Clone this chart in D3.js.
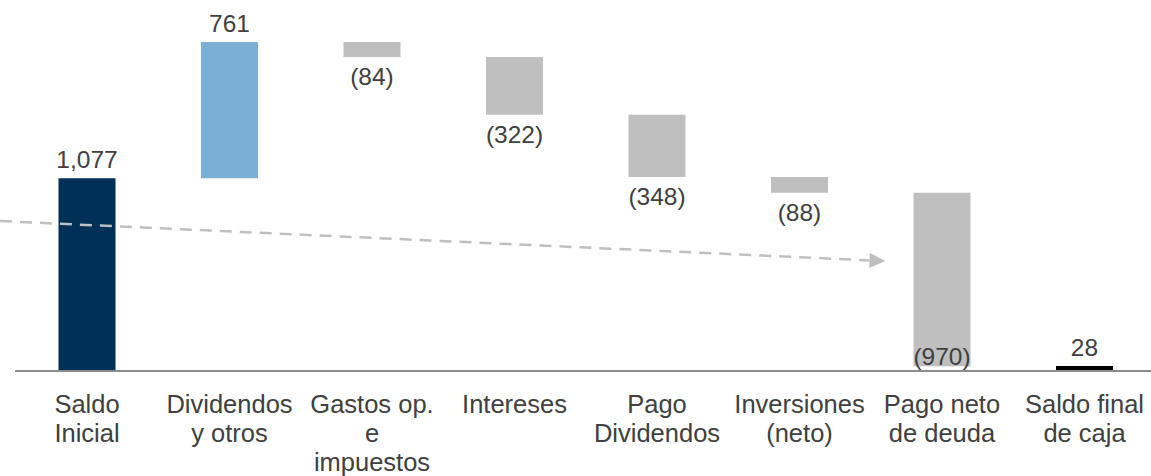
<!DOCTYPE html>
<html>
<head>
<meta charset="utf-8">
<script src="https://cdn.jsdelivr.net/npm/d3@7/dist/d3.min.js"></script>
<style>
  html, body { margin: 0; padding: 0; background: #fff; }
  svg { display: block; }
  text { font-family: "Liberation Sans", Arial, sans-serif; fill: #404040; }
</style>
</head>
<body>
<svg id="chart" width="1151" height="476"></svg>
<script>
// ---- data ----
const categories = [
  "Saldo\nInicial",
  "Dividendos\ny otros",
  "Gastos op.\ne\nimpuestos",
  "Intereses",
  "Pago\nDividendos",
  "Inversiones\n(neto)",
  "Pago neto\nde deuda",
  "Saldo final\nde caja"
];
const values = [1077, 761, -84, -322, -348, -88, -970, 28];
const kinds = ["total", "increase", "decrease", "decrease", "decrease", "decrease", "decrease", "total"];
const valueLabels = ["1,077", "761", "(84)", "(322)", "(348)", "(88)", "(970)", "28"];
// dashed trend annotation: value level at the left edge and at the arrow tip (before "Pago neto de deuda")
const trendValues = [838, 614];

// ---- layout ----
const W = 1151, H = 476;
const svg = d3.select("#chart");
const colors = { total0: "#003057", increase: "#7bafd4", decrease: "#bfbfbf", totalEnd: "#000000" };

const x = d3.scaleBand()
  .domain(categories)
  .range([15.75, 1155.75])
  .paddingInner(0.6)
  .paddingOuter(0.3);

const y = d3.scaleLinear().domain([0, 2073]).range([371, 0]);

// waterfall computation
let running = 0;
const bars = categories.map((c, i) => {
  let y0, y1;
  if (kinds[i] === "total") {
    y0 = 0; y1 = values[i];
    running = values[i];
  } else {
    y0 = running; y1 = running + values[i];
    running = y1;
  }
  return { cat: c, v: values[i], kind: kinds[i], lo: Math.min(y0, y1), hi: Math.max(y0, y1), label: valueLabels[i], i };
});

function barColor(d) {
  if (d.kind === "total") return d.i === 0 ? colors.total0 : colors.totalEnd;
  return d.kind === "increase" ? colors.increase : colors.decrease;
}

// bars
svg.append("g").selectAll("rect")
  .data(bars)
  .join("rect")
  .attr("x", d => x(d.cat))
  .attr("width", x.bandwidth())
  .attr("y", d => y(d.hi))
  .attr("height", d => Math.max(y(d.lo) - y(d.hi), 3.5))
  .attr("fill", barColor);

// baseline axis
const axis = svg.append("g").attr("transform", `translate(0,${y(0)})`)
  .call(d3.axisBottom(x).tickSize(0).tickFormat(""));
axis.select(".domain").attr("stroke", "#8c8c8c").attr("stroke-width", 2)
  .attr("d", `M15,0H${W}`);

// category labels
const lab = svg.append("g").selectAll("text")
  .data(categories)
  .join("text")
  .attr("text-anchor", "middle")
  .attr("font-size", 25.5)
  .attr("x", d => x(d) + x.bandwidth() / 2)
  .attr("y", 413);
lab.selectAll("tspan")
  .data(d => d.split("\n"))
  .join("tspan")
  .attr("x", function () { return this.parentNode.getAttribute("x"); })
  .attr("dy", (d, i) => i === 0 ? 0 : 29)
  .text(d => d);

// value labels
svg.append("g").selectAll("text")
  .data(bars)
  .join("text")
  .attr("text-anchor", "middle")
  .attr("font-size", 24.5)
  .attr("x", d => x(d.cat) + x.bandwidth() / 2)
  .attr("y", d => {
    if (d.v >= 0) return y(d.hi) - 10;
    return Math.min(y(d.lo) + 28, y(0) - 6);
  })
  .text(d => d.label);

// dashed trend arrow
const tipX = x(categories[6]) - 28;
const startPt = [0, y(trendValues[0])];
const tipPt = [tipX, y(trendValues[1])];
const ang = Math.atan2(tipPt[1] - startPt[1], tipPt[0] - startPt[0]);
const headLen = 16, headHalf = 7.5;
const baseX = tipPt[0] - headLen * Math.cos(ang), baseY = tipPt[1] - headLen * Math.sin(ang);
svg.append("line")
  .attr("x1", startPt[0]).attr("y1", startPt[1])
  .attr("x2", baseX).attr("y2", baseY)
  .attr("stroke", "#bfbfbf").attr("stroke-width", 2.5)
  .attr("stroke-dasharray", "12,8");
svg.append("path")
  .attr("d", d3.line()([
    tipPt,
    [baseX - headHalf * Math.sin(ang), baseY + headHalf * Math.cos(ang)],
    [baseX + headHalf * Math.sin(ang), baseY - headHalf * Math.cos(ang)]
  ]) + "Z")
  .attr("fill", "#bfbfbf");
</script>
</body>
</html>
